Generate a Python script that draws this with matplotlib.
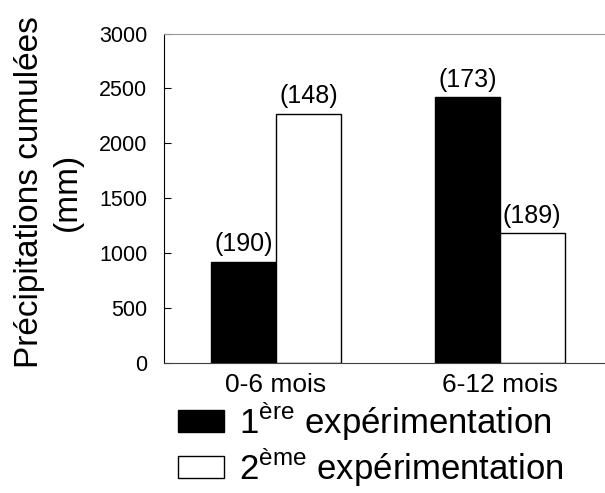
import numpy as np
import matplotlib.pyplot as plt
from matplotlib.patches import Patch

plt.rcParams['font.family'] = ['Liberation Sans', 'DejaVu Sans']
plt.rcParams['mathtext.fontset'] = 'custom'
plt.rcParams['mathtext.rm'] = 'Liberation Sans'

periods = ['0-6 mois', '6-12 mois']
exp1 = [920, 2420]
exp2 = [2270, 1180]
exp1_labels = ['(190)', '(173)']
exp2_labels = ['(148)', '(189)']
yticks = [0, 500, 1000, 1500, 2000, 2500, 3000]

fig = plt.figure(figsize=(6.05, 4.93), dpi=100)
ax = fig.add_axes([0.271, 0.2637, 0.74, 0.6683])

x = np.arange(len(periods))
w = 0.29
b1 = ax.bar(x - w / 2, exp1, w, color='black', edgecolor='black', linewidth=1)
b2 = ax.bar(x + w / 2, exp2, w, color='white', edgecolor='black', linewidth=1)
ax.bar_label(b1, labels=exp1_labels, padding=4, fontsize=18)
ax.bar_label(b2, labels=exp2_labels, padding=4, fontsize=18)

ax.set_xlim(-0.5, 1.5)
ax.set_ylim(0, 3000)
ax.set_yticks(yticks)
ax.set_xticks(x)
ax.set_xticklabels(periods, fontsize=19)
ax.tick_params(axis='y', direction='in', length=5, pad=12, labelsize=15.5)
ax.tick_params(axis='x', length=0, pad=7)

ax.spines['right'].set_visible(False)
ax.spines['top'].set_color('#999999')
ax.spines['bottom'].set_color('#404040')
ax.spines['left'].set_color('black')

ax.set_ylabel('Précipitations cumulées\n(mm)', fontsize=24, linespacing=1.3)
ax.yaxis.set_label_coords(-0.18, 0.52)

handles = [Patch(facecolor='black', edgecolor='black'),
           Patch(facecolor='white', edgecolor='black')]
labels = ['1$^{\\mathregular{ère}}$ expérimentation',
          '2$^{\\mathregular{ème}}$ expérimentation']
fig.legend(handles, labels, loc='upper left', bbox_to_anchor=(0.295, 0.19),
           frameon=False, fontsize=25, handlelength=1.3, handleheight=0.6,
           handletextpad=0.45, labelspacing=0.08, borderpad=0, borderaxespad=0)

plt.savefig('out.png', dpi=100)
